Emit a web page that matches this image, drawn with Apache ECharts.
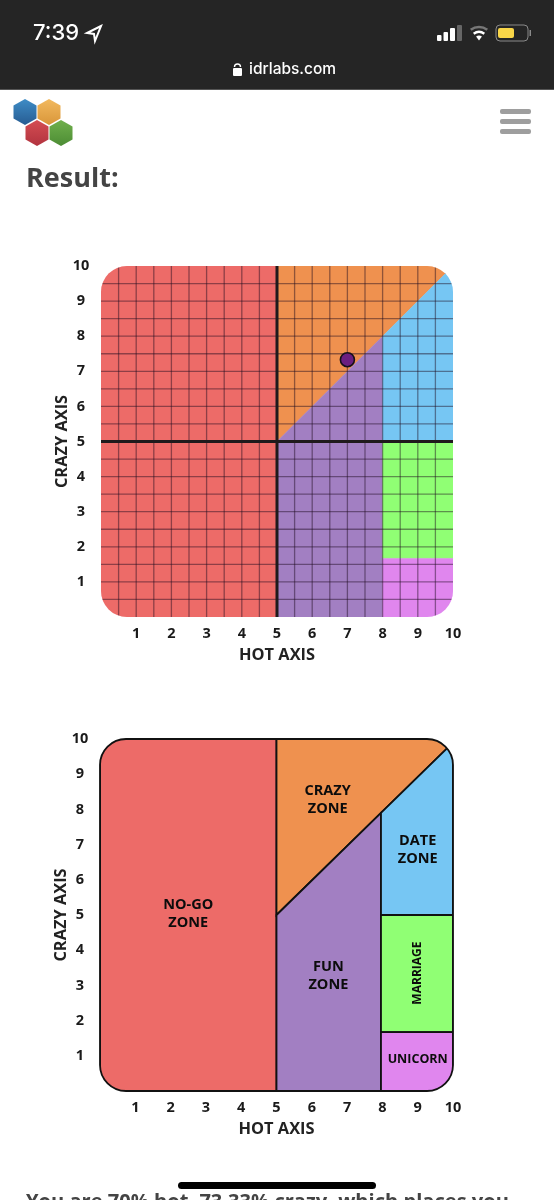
<!DOCTYPE html>
<html><head><meta charset="utf-8">
<style>html,body{margin:0;padding:0;background:#fff}#c{width:554px;height:1200px}</style>
<script src="https://cdn.jsdelivr.net/npm/echarts@6/dist/echarts.min.js"></script>
</head><body><div id="c"></div>
<script>
const hotTicks = [1,2,3,4,5,6,7,8,9,10];
const crazyTicks = [1,2,3,4,5,6,7,8,9,10];
const gridSteps = [0.5,1,1.5,2,2.5,3,3.5,4,4.5,5,5.5,6,6.5,7,7.5,8,8.5,9,9.5];
const centreLine = [5];
const zoneNames = ['NO-GO\nZONE','CRAZY\nZONE','FUN\nZONE','DATE\nZONE','MARRIAGE','UNICORN'];
const zoneColors = ['#ED6B68','#EF914F','#A27FC2','#76C6F3','#90FF74','#E086EE'];
const zonesUpper = [
  [[0,0],[5,0],[5,10],[0,10]],
  [[5,5],[5,10],[10,10]],
  [[5,0],[8,0],[8,8],[5,5]],
  [[8,5],[10,5],[10,10],[8,8]],
  [[8,1.67],[10,1.67],[10,5],[8,5]],
  [[8,0],[10,0],[10,1.67],[8,1.67]]
];
const zonesLower = [
  [[0,0],[5,0],[5,10],[0,10]],
  [[5,5],[5,10],[10,10],[10,9.9]],
  [[5,0],[7.96,0],[7.96,7.9],[5,5]],
  [[7.96,5],[10,5],[10,9.9],[7.96,7.9]],
  [[7.96,1.67],[10,1.67],[10,5],[7.96,5]],
  [[7.96,0],[10,0],[10,1.67],[7.96,1.67]]
];
const zoneLabelHot = [2.5,6.45,6.47,9,9,9];
const zoneLabelCrazy = [5.02,8.27,3.26,6.86,3.35,0.9];
const resultHot = [7];
const resultCrazy = [7.33];
const CORNER = 26;
const FONT = '"Open Sans", sans-serif';

function corner(params, api) {
  const tl = api.coord([0,10]), br = api.coord([10,0]);
  return {x:tl[0],y:tl[1],width:br[0]-tl[0],height:br[1]-tl[1],r:CORNER};
}
function zoneRenderer(polygons, outlined){
  return function(params, api){
    const i = params.dataIndex;
    const pts = polygons[i].map(p=>api.coord(p));
    return {type:'polygon',shape:{points:pts},
      style:{fill:zoneColors[i],stroke:outlined?'#111':zoneColors[i],lineWidth:outlined?1.8:0.5},
      clipPath:{type:'rect',shape:corner(params,api)}};
  };
}
function gridLine(params, api){
  const s = gridSteps[params.dataIndex];
  const rect = corner(params,api);
  const mk = (a,b)=>{const p=api.coord(a),q=api.coord(b);
    return {type:'line',shape:{x1:p[0],y1:p[1],x2:q[0],y2:q[1]},
      style:{stroke:'rgba(30,10,30,0.46)',lineWidth:1.3},clipPath:{type:'rect',shape:rect}};};
  return {type:'group',children:[mk([s,0],[s,10]),mk([0,s],[10,s])]};
}
function centre(params, api){
  const s = centreLine[params.dataIndex];
  const mk = (a,b)=>{const p=api.coord(a),q=api.coord(b);
    return {type:'line',shape:{x1:p[0],y1:p[1],x2:q[0],y2:q[1]},
      style:{stroke:'#1f1a1c',lineWidth:3}};};
  return {type:'group',children:[mk([s,0],[s,10]),mk([0,s],[10,s])]};
}
function frame(params, api){
  return {type:'rect',shape:corner(params,api),style:{fill:'none',stroke:'#111',lineWidth:1.8}};
}
function axisX(i){return {gridIndex:i,type:'value',min:0,max:10,interval:1,
  name:'HOT AXIS',nameLocation:'middle',nameGap:30,nameMoveOverlap:false,
  nameTextStyle:{fontFamily:FONT,fontWeight:700,fontSize:16.4,color:'#222'},
  axisLine:{show:false},axisTick:{show:false},splitLine:{show:false},
  axisLabel:{margin:9,fontFamily:FONT,fontWeight:700,fontSize:14.5,color:'#1a1a1a',
    formatter:v=>hotTicks.includes(v)?String(v):''}};}
function axisY(i){return {gridIndex:i,type:'value',min:0,max:10,interval:1,
  name:'CRAZY AXIS',nameLocation:'middle',nameGap:31,nameMoveOverlap:false,
  nameTextStyle:{fontFamily:FONT,fontWeight:700,fontSize:16.4,color:'#222'},
  axisLine:{show:false},axisTick:{show:false},splitLine:{show:false},
  axisLabel:{margin:20,align:'center',padding:[3,0,0,0],fontFamily:FONT,fontWeight:700,fontSize:14.5,color:'#1a1a1a',
    formatter:v=>crazyTicks.includes(v)?String(v):''}};}

const hex = (cx,cy,c1,c2)=>({type:'polygon',
  shape:{points:[[cx,cy-13],[cx+11.5,cy-6.5],[cx+11.5,cy+6.5],[cx,cy+13],[cx-11.5,cy+6.5],[cx-11.5,cy-6.5]]},
  style:{fill:new echarts.graphic.LinearGradient(0,0,0,1,[{offset:0,color:c1},{offset:1,color:c2}])}});
const bar = (y)=>({type:'rect',shape:{x:500,y:y,width:31,height:5,r:2},style:{fill:'#9e9e9e'}});
const chrome = [
  {type:'rect',shape:{x:0,y:0,width:554,height:89},style:{fill:'#252525'}},
  {type:'rect',shape:{x:0,y:89,width:554,height:1},style:{fill:'#555'}},
  {type:'text',x:33,y:33,style:{text:'7:39',fill:'#fff',font:'500 22px Inter, Roboto, sans-serif',textVerticalAlign:'middle'}},
  {type:'polygon',shape:{points:[[101,26],[87,33],[94,34],[95,41]]},style:{fill:'none',stroke:'#fff',lineWidth:2}},
  {type:'rect',shape:{x:437,y:35,width:4.5,height:6,r:1},style:{fill:'#fff'}},
  {type:'rect',shape:{x:443.5,y:32,width:4.5,height:9,r:1},style:{fill:'#fff'}},
  {type:'rect',shape:{x:450,y:28,width:5,height:13,r:1},style:{fill:'#fff'}},
  {type:'rect',shape:{x:457,y:25,width:5,height:16,r:1},style:{fill:'#666'}},
  {type:'sector',shape:{cx:479,cy:40.5,r0:0,r:5,startAngle:-2.2,endAngle:-0.94},style:{fill:'#fff'}},
  {type:'arc',shape:{cx:479,cy:41,r:9,startAngle:-2.2,endAngle:-0.94},style:{fill:'none',stroke:'#fff',lineWidth:2.4}},
  {type:'arc',shape:{cx:479,cy:41,r:14,startAngle:-2.2,endAngle:-0.94},style:{fill:'none',stroke:'#777',lineWidth:2.6}},
  {type:'rect',shape:{x:496,y:25,width:32,height:16,r:4},style:{fill:'none',stroke:'#8a8a8a',lineWidth:1}},
  {type:'rect',shape:{x:498,y:28,width:16,height:10,r:2},style:{fill:'#F9D648'}},
  {type:'rect',shape:{x:529.5,y:30,width:1.5,height:6},style:{fill:'#8a8a8a'}},
  {type:'rect',shape:{x:233,y:68,width:9,height:8,r:1},style:{fill:'#fff'}},
  {type:'arc',shape:{cx:237.5,cy:67,r:3,startAngle:Math.PI,endAngle:0},style:{fill:'none',stroke:'#fff',lineWidth:1.4}},
  {type:'text',x:249,y:69,style:{text:'idrlabs.com',fill:'#fff',font:'500 15.5px Inter, Roboto, sans-serif',textVerticalAlign:'middle'}},
  hex(25,112,'#3E8CC6','#275C92'), hex(49,112,'#F2B95E','#D9963A'),
  hex(37,133,'#D44D52','#B2333F'), hex(61,133,'#70B04C','#4C8C34'),
  bar(109),bar(119),bar(129),
  {type:'text',x:26,y:179,style:{text:'Result:',fill:'#444',font:'700 27px "Open Sans", sans-serif',textVerticalAlign:'middle'}},
  {type:'rect',shape:{x:178,y:1182,width:198,height:7,r:3.5},style:{fill:'#000'}},
  {type:'text',x:26,y:1202,style:{text:'You are 70% hot, 73.33% crazy, which places you',fill:'#444',font:'700 20.1px "Open Sans", sans-serif',textVerticalAlign:'middle'}}
];

const boxes = [{left:101,top:266,width:352,height:351},{left:100,top:739,width:353,height:352}];
const labelStyle = {show:true,position:'inside',color:'#0c0c0c',opacity:1,
  fontFamily:FONT,fontWeight:700,fontSize:14.5,lineHeight:18};
const labelData = zoneNames.map((n,i)=>{
  const item = {name:n,value:[zoneLabelHot[i],zoneLabelCrazy[i]]};
  if(n==='MARRIAGE') item.label = {rotate:90,fontSize:12};
  if(n==='UNICORN') item.label = {fontSize:12.5};
  return item;
});
const chart = echarts.init(document.getElementById('c'),null,{renderer:'canvas',width:554,height:1200});
chart.setOption({
  animation:false,
  backgroundColor:'#fff',
  graphic:{elements:chrome},
  grid:boxes,
  xAxis:[axisX(0),axisX(1)],
  yAxis:[axisY(0),axisY(1)],
  series:[
    {type:'custom',xAxisIndex:0,yAxisIndex:0,coordinateSystem:'cartesian2d',z:2,silent:true,
      data:zonesUpper.map((_,i)=>i),encode:{x:0,y:0},renderItem:zoneRenderer(zonesUpper,false)},
    {type:'custom',xAxisIndex:0,yAxisIndex:0,z:3,silent:true,
      data:gridSteps.map((s)=>s),encode:{x:0,y:0},renderItem:gridLine},
    {type:'custom',xAxisIndex:0,yAxisIndex:0,z:4,silent:true,
      data:centreLine,encode:{x:0,y:0},renderItem:centre},
    {type:'scatter',xAxisIndex:0,yAxisIndex:0,z:5,silent:true,symbolSize:14,
      data:resultHot.map((h,i)=>[h,resultCrazy[i]]),
      itemStyle:{color:'#6B1E80',borderColor:'#16101a',borderWidth:1.6,opacity:1}},
    {type:'custom',xAxisIndex:1,yAxisIndex:1,z:2,silent:true,
      data:zonesLower.map((_,i)=>i),encode:{x:0,y:0},renderItem:zoneRenderer(zonesLower,true)},
    {type:'custom',xAxisIndex:1,yAxisIndex:1,z:3,silent:true,
      data:[0],encode:{x:0,y:0},renderItem:frame},
    {type:'scatter',xAxisIndex:1,yAxisIndex:1,z:6,silent:true,symbolSize:1,
      itemStyle:{opacity:1,color:'transparent'},
      data:labelData,
      label:Object.assign({formatter:p=>p.name},labelStyle)}
  ]
});
</script></body></html>
